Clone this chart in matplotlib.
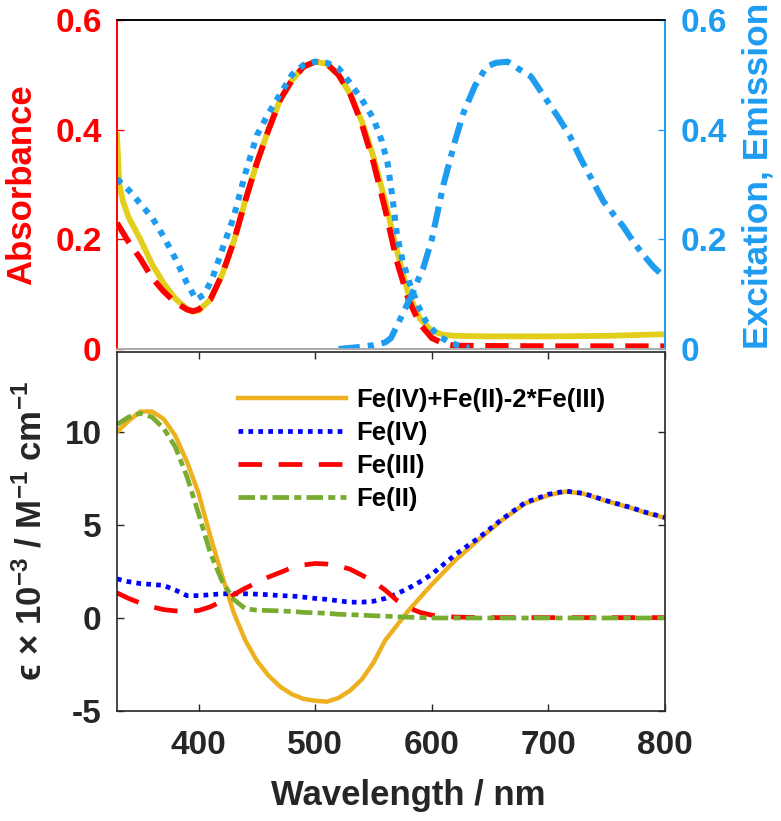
import numpy as np
import matplotlib.pyplot as plt

plt.rcParams['font.family'] = ['Liberation Sans', 'DejaVu Sans']
plt.rcParams['font.weight'] = 'bold'
plt.rcParams['axes.labelweight'] = 'bold'
plt.rcParams['axes.unicode_minus'] = False
plt.rcParams['mathtext.fontset'] = 'custom'
plt.rcParams['mathtext.rm'] = 'Liberation Sans:bold'
plt.rcParams['mathtext.it'] = 'Liberation Sans:bold:italic'
plt.rcParams['mathtext.bf'] = 'Liberation Sans:bold'

# ---- top panel: absorbance (left) and excitation/emission (right)
abs1_wl = [330, 332, 335, 340, 350, 360, 370, 380, 390, 395, 400, 410, 420, 430, 440, 450, 460,
           470, 480, 490, 500, 510, 520, 530, 540, 550, 560, 570, 580, 590, 600, 610, 620, 650,
           700, 750, 800]
abs1 = [0.39, 0.30, 0.27, 0.24, 0.20, 0.155, 0.12, 0.092, 0.073, 0.068, 0.07, 0.09, 0.135, 0.195,
        0.27, 0.34, 0.40, 0.455, 0.49, 0.515, 0.524, 0.52, 0.50, 0.465, 0.415, 0.35, 0.27, 0.18,
        0.10, 0.055, 0.033, 0.026, 0.024, 0.023, 0.023, 0.024, 0.027]

abs2_wl = [330, 340, 350, 360, 370, 380, 390, 395, 400, 410, 420, 430, 440, 450, 460, 470, 480,
           490, 500, 510, 520, 530, 540, 550, 560, 570, 580, 590, 600, 610, 620, 700, 800]
abs2 = [0.23, 0.195, 0.165, 0.13, 0.105, 0.085, 0.072, 0.069, 0.072, 0.09, 0.135, 0.195, 0.27,
        0.34, 0.40, 0.455, 0.49, 0.515, 0.524, 0.52, 0.50, 0.465, 0.41, 0.34, 0.255, 0.16, 0.09,
        0.045, 0.02, 0.01, 0.006, 0.005, 0.005]

exc_wl = [330, 340, 350, 360, 370, 380, 390, 398, 405, 412, 420, 430, 440, 450, 460, 470, 480,
          490, 500, 510, 520, 530, 540, 550, 557, 562, 566, 570, 575, 581, 588, 595, 605, 615,
          625, 632]
exc = [0.31, 0.29, 0.265, 0.24, 0.205, 0.165, 0.12, 0.09, 0.10, 0.13, 0.18, 0.24, 0.32, 0.39,
       0.43, 0.465, 0.50, 0.518, 0.524, 0.522, 0.512, 0.485, 0.455, 0.42, 0.38, 0.34, 0.28, 0.21,
       0.16, 0.12, 0.08, 0.05, 0.025, 0.012, 0.005, 0.002]

em_wl = [520, 530, 540, 550, 560, 565, 573, 583, 593, 600, 610, 620, 627, 637, 647, 655, 665,
         675, 685, 695, 708, 718, 727, 737, 747, 756, 764, 773, 782, 790, 800]
em = [0.0, 0.002, 0.004, 0.007, 0.012, 0.02, 0.055, 0.10, 0.15, 0.20, 0.30, 0.38, 0.43, 0.48,
      0.515, 0.522, 0.524, 0.51, 0.497, 0.465, 0.424, 0.39, 0.35, 0.31, 0.27, 0.245, 0.224,
      0.195, 0.17, 0.15, 0.13]

# ---- bottom panel: extinction coefficients (x 10^-3)
wl = [330, 340, 350, 360, 370, 380, 390, 400, 410, 420, 430, 440, 450, 460, 470, 480, 490, 500,
      510, 520, 530, 540, 550, 560, 570, 580, 590, 600, 620, 640, 660, 680, 700, 715, 730, 750,
      770, 785, 800]
fe4 = [2.1, 1.95, 1.85, 1.8, 1.75, 1.5, 1.2, 1.2, 1.25, 1.3, 1.3, 1.3, 1.28, 1.25, 1.2, 1.18,
       1.12, 1.05, 1.0, 0.92, 0.85, 0.85, 0.9, 1.05, 1.3, 1.6, 1.95, 2.35, 3.4, 4.3, 5.3, 6.2,
       6.65, 6.82, 6.7, 6.3, 5.95, 5.65, 5.4]
fe3 = [1.35, 1.05, 0.8, 0.6, 0.45, 0.38, 0.35, 0.4, 0.6, 0.9, 1.25, 1.6, 1.9, 2.2, 2.45, 2.7,
       2.85, 2.93, 2.9, 2.8, 2.62, 2.3, 1.95, 1.5, 0.95, 0.55, 0.3, 0.15, 0.05, 0.02, 0.02, 0.02,
       0.02, 0.02, 0.02, 0.02, 0.02, 0.02, 0.02]
fe2 = [10.4, 10.8, 11.0, 10.8, 10.2, 9.2, 7.6, 5.6, 3.5, 2.0, 1.0, 0.5, 0.42, 0.4, 0.38, 0.35,
       0.3, 0.28, 0.25, 0.2, 0.18, 0.15, 0.12, 0.1, 0.07, 0.04, 0.02, 0.0, 0.0, 0.0, 0.0, 0.0,
       0.0, 0.0, 0.0, 0.0, 0.0, 0.0, 0.0]
diff = [10.0, 10.6, 11.1, 11.1, 10.7, 9.8, 8.4, 6.7, 4.4, 2.3, 0.3, -1.2, -2.3, -3.1, -3.7,
        -4.1, -4.35, -4.45, -4.5, -4.3, -3.9, -3.3, -2.4, -1.2, -0.4, 0.4, 1.1, 1.8, 3.1, 4.2,
        5.25, 6.15, 6.6, 6.8, 6.68, 6.28, 5.93, 5.63, 5.38]

red = '#FF0000'
skyblue = '#1E9CF0'
yellow = '#E2CF1C'
dark = '#262626'

fig = plt.figure(figsize=(7.81, 8.21), dpi=100)
ax1 = fig.add_axes([0.1498, 0.5749, 0.7017, 0.4007])
ax2 = ax1.twinx()
ax3 = fig.add_axes([0.1498, 0.134, 0.7017, 0.4373])

ax1.plot(abs1_wl, abs1, color=yellow, lw=4.2)
ax1.plot(abs2_wl, abs2, color=red, lw=4.2, dashes=(4, 2))
ax2.plot(exc_wl, exc, color=skyblue, lw=4.4, linestyle=(0, (1, 1.2)))
ax2.plot(em_wl, em, color=skyblue, lw=4.4, dashes=(3.5, 1.3, 1, 1.3))

for a in (ax1, ax2):
    a.set_xlim(330, 800)
    a.set_ylim(0, 0.6)
    a.set_yticks([0, 0.2, 0.4, 0.6])
    a.set_yticklabels(['0', '0.2', '0.4', '0.6'])
ax1.set_xticks([])
ax1.tick_params(axis='y', colors=red, labelsize=24, direction='in', length=5, width=1, pad=11)
ax2.tick_params(axis='y', colors=skyblue, labelsize=24, direction='in', length=5, width=1, pad=11)
ax1.spines['left'].set_color(red)
ax2.spines['left'].set_color(red)
ax2.spines['right'].set_color(skyblue)
ax1.spines['right'].set_color(skyblue)
for a in (ax1, ax2):
    a.spines['top'].set_color('black')
    a.spines['bottom'].set_color('#AAAAAA')
    for s in a.spines.values():
        s.set_linewidth(1.2)
ax1.set_ylabel('Absorbance', color=red, fontsize=25, labelpad=12)
ax2.set_ylabel('Excitation, Emission', color=skyblue, fontsize=25.5)
ax2.yaxis.set_label_coords(1.139, 0.527)

ax3.plot(wl, diff, color='#EDB120', lw=3.2, label='Fe(IV)+Fe(II)-2*Fe(III)')
ax3.plot(wl, fe4, color='#0000FF', lw=3.4, linestyle=(0, (1, 1.1)), label='Fe(IV)')
ax3.plot(wl, fe3, color=red, lw=3.4, dashes=(5, 3.5), label='Fe(III)')
ax3.plot(wl, fe2, color='#77AC30', lw=3.4, dashes=(3.5, 1.1, 1.5, 1.1), label='Fe(II)')
ax3.set_xlim(330, 800)
ax3.set_ylim(-5, 14.3)
ax3.set_xticks([400, 500, 600, 700, 800])
ax3.set_yticks([-5, 0, 5, 10])
ax3.tick_params(axis='both', colors=dark, labelsize=24, direction='in', length=5, width=1,
                top=True, right=True)
ax3.tick_params(axis='x', pad=14)
ax3.tick_params(axis='y', pad=11)
for s in ax3.spines.values():
    s.set_color(dark)
    s.set_linewidth(1.2)
ax3.set_xlabel('Wavelength / nm', fontsize=25, color=dark)
ax3.xaxis.set_label_coords(0.531, -0.19)
ax3.set_ylabel('ϵ × 10$^{-3}$ / M$^{-1}$ cm$^{-1}$', fontsize=25, color=dark, labelpad=12)
ax3.legend(loc='upper left', bbox_to_anchor=(0.221, 0.90), frameon=False, fontsize=18.5,
           handlelength=4.2, handletextpad=0.4, labelspacing=0.35, borderpad=0,
           borderaxespad=0)

fig.savefig('out.png', dpi=100)
